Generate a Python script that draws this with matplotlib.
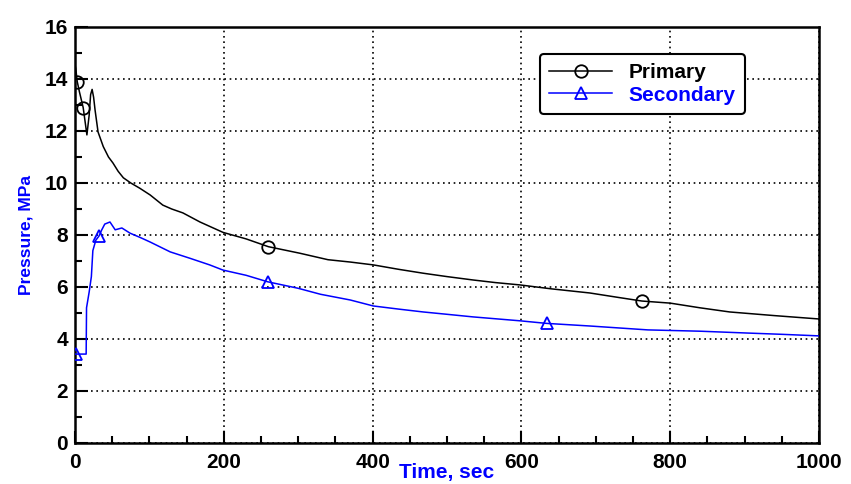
import matplotlib
matplotlib.use("Agg")
import matplotlib.pyplot as plt
from matplotlib.ticker import MultipleLocator
import numpy as np

plt.rcParams['font.family'] = ['Liberation Sans', 'DejaVu Sans']

# ---- data ----
prim_t = [0, 1, 3, 6, 11, 16, 19, 21, 23, 25, 27, 31, 38, 45, 51, 58, 65, 75, 87,
          101, 118, 130, 145, 168, 199, 230, 260, 302, 340, 370, 401, 435, 468,
          500, 535, 565, 598, 640, 692, 730, 762, 800, 840, 880, 940, 1000]
prim_p = [14.55, 14.4, 13.9, 13.5, 12.9, 11.85, 12.6, 13.4, 13.6, 13.3, 12.8, 11.96,
          11.4, 11.0, 10.77, 10.45, 10.2, 10.0, 9.8, 9.54, 9.15, 9.0, 8.85, 8.5, 8.1,
          7.85, 7.55, 7.3, 7.05, 6.96, 6.85, 6.68, 6.53, 6.4, 6.27, 6.17, 6.08, 5.93,
          5.77, 5.6, 5.46, 5.38, 5.2, 5.04, 4.9, 4.77]
prim_marks = [2, 4, 26, 40]

sec_t = [0, 1, 8, 15, 15.5, 19, 22, 24, 28, 32, 36, 40, 47, 54, 63, 74, 88, 101,
         128, 155, 181, 199, 230, 259, 300, 330, 370, 401, 435, 468, 500, 535, 598,
         634, 692, 770, 840, 903, 950, 1000]
sec_p = [3.42, 3.42, 3.42, 3.42, 5.2, 5.8, 6.4, 7.4, 7.8, 7.95, 8.2, 8.42, 8.5, 8.2,
         8.27, 8.07, 7.9, 7.73, 7.35, 7.1, 6.85, 6.65, 6.45, 6.2, 5.95, 5.72, 5.5,
         5.27, 5.15, 5.04, 4.95, 4.85, 4.7, 4.6, 4.5, 4.35, 4.3, 4.23, 4.18, 4.12]
sec_marks = [1, 9, 23, 33]

labels = ["Primary", "Secondary"]
xlabel = "Time, sec"
ylabel = "Pressure, MPa"

blue = "#0000ff"

fig = plt.figure(figsize=(8.51, 4.84), dpi=100)
ax = fig.add_axes([75/851, 41/484, 744/851, 416/484])

ax.plot(prim_t, prim_p, color="black", lw=1.1, marker="o", markevery=prim_marks,
        markersize=9, markerfacecolor="none", markeredgecolor="black",
        markeredgewidth=1.3, label=labels[0], zorder=3)
ax.plot(sec_t, sec_p, color=blue, lw=1.1, marker="^", markevery=sec_marks,
        markersize=9, markerfacecolor="none", markeredgecolor=blue,
        markeredgewidth=1.3, label=labels[1], zorder=3)

ax.set_xlim(0, 1000)
ax.set_ylim(0, 16)
ax.xaxis.set_major_locator(MultipleLocator(200))
ax.xaxis.set_minor_locator(MultipleLocator(50))
ax.yaxis.set_major_locator(MultipleLocator(2))
ax.yaxis.set_minor_locator(MultipleLocator(1))

ax.grid(True, which="major", color="black", linestyle=(0, (1, 2.2)), lw=1.2)
ax.set_axisbelow(True)

ax.tick_params(which="major", direction="in", length=9, width=1.5,
               labelsize=15, pad=5, colors="black")
ax.tick_params(which="minor", direction="in", length=5, width=1.5)
ax.tick_params(axis="x", pad=7)
for lab in ax.get_xticklabels() + ax.get_yticklabels():
    lab.set_fontweight("bold")

for s in ax.spines.values():
    s.set_linewidth(1.8)
    s.set_color("black")

ax.set_xlabel(xlabel, color=blue, fontsize=15, fontweight="bold", labelpad=-6)
ax.set_ylabel(ylabel, color=blue, fontsize=12.5, fontweight="bold", labelpad=8)

leg = ax.legend(loc="upper left", bbox_to_anchor=(0.625, 0.935), borderaxespad=0,
                frameon=True, fancybox=True, edgecolor="black", framealpha=1,
                prop={"weight": "bold", "size": 15}, handlelength=3.0,
                handletextpad=0.8, borderpad=0.45, labelspacing=0.15)
leg.get_frame().set_linewidth(1.5)
leg.get_texts()[1].set_color(blue)

fig.savefig("out.png", dpi=100)
